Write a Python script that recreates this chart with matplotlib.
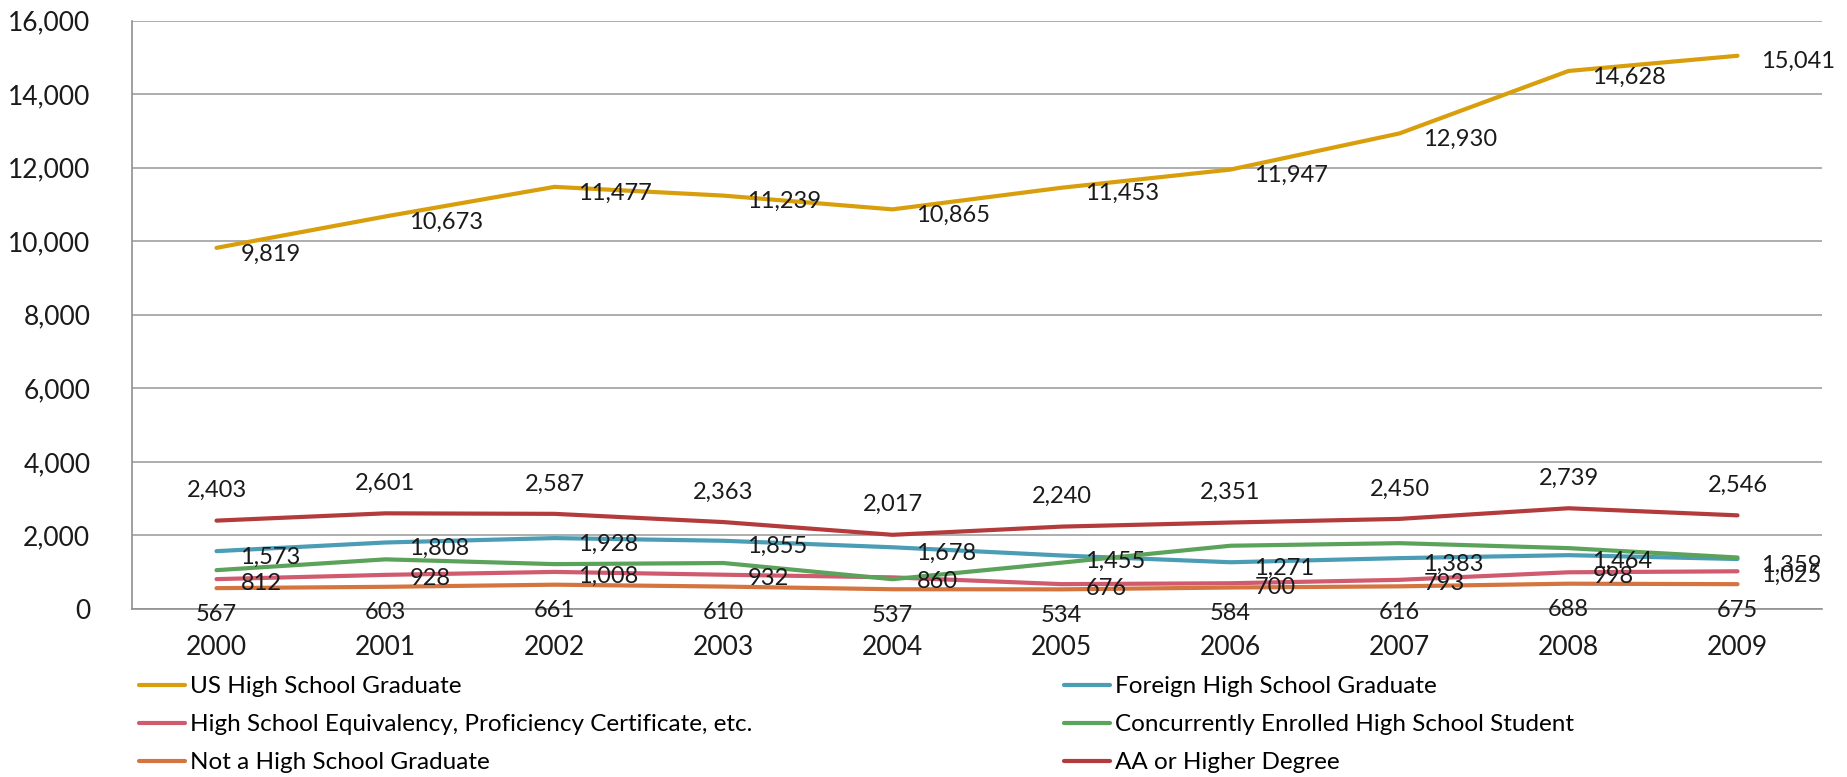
import matplotlib.pyplot as plt
from matplotlib.ticker import FuncFormatter
from matplotlib.transforms import offset_copy

plt.rcParams['font.family'] = ['Lato', 'DejaVu Sans']

years = ["2000", "2001", "2002", "2003", "2004", "2005", "2006", "2007", "2008", "2009"]

us_grad = [9819, 10673, 11477, 11239, 10865, 11453, 11947, 12930, 14628, 15041]
foreign_grad = [1573, 1808, 1928, 1855, 1678, 1455, 1271, 1383, 1464, 1359]
equivalency = [812, 928, 1008, 932, 860, 676, 700, 793, 998, 1025]
concurrent = [1056, 1350, 1220, 1250, 810, 1260, 1720, 1790, 1655, 1400]
not_grad = [567, 603, 661, 610, 537, 534, 584, 616, 688, 675]
aa_higher = [2403, 2601, 2587, 2363, 2017, 2240, 2351, 2450, 2739, 2546]

# name, values, colour, label placement (dx, dy in px, ha, va) or None
series = [
    ("US High School Graduate", us_grad, "#D99E0B", (24, -6, "left", "center")),
    ("Foreign High School Graduate", foreign_grad, "#4A9DB5", (24, -6, "left", "center")),
    ("High School Equivalency, Proficiency Certificate, etc.", equivalency, "#D05A6E", (24, -4, "left", "center")),
    ("Concurrently Enrolled High School Student", concurrent, "#5BA25A", None),
    ("Not a High School Graduate", not_grad, "#D4743F", (0, -26, "center", "center")),
    ("AA or Higher Degree", aa_higher, "#B33B3B", (0, 30, "center", "center")),
]

fig = plt.figure(figsize=(18.47, 7.77), dpi=100)
ax = fig.add_axes([132 / 1847, 1 - 609 / 777, 1690 / 1847, 588.5 / 777])

x = list(range(len(years)))
lines = {}
for name, vals, color, lab in series:
    ln, = ax.plot(x, vals, color=color, lw=3, solid_capstyle="round", label=name, zorder=3)
    lines[name] = ln
    if lab is not None:
        dx, dy, ha, va = lab
        tr = offset_copy(ax.transData, fig=fig, x=dx, y=dy, units="dots")
        for xi, v in zip(x, vals):
            ax.text(xi, v, f"{v:,}", transform=tr, ha=ha, va=va,
                    fontsize=17, color="#1a1a1a", zorder=4)

ax.set_xlim(-0.5, 9.5)
ax.set_ylim(0, 16000)
ax.set_yticks(range(0, 16001, 2000))
ax.yaxis.set_major_formatter(FuncFormatter(lambda v, p: f"{int(v):,}"))
ax.set_xticks(x)
ax.set_xticklabels(years)
ax.tick_params(axis="both", length=0, labelsize=19, colors="#1a1a1a")
ax.tick_params(axis="y", pad=30)
ax.tick_params(axis="x", pad=19)
ax.grid(axis="y", color="#A0A0A0", lw=1.2)
ax.set_axisbelow(True)
for s in ["top", "right"]:
    ax.spines[s].set_visible(False)
for s in ["left", "bottom"]:
    ax.spines[s].set_color("#909090")
    ax.spines[s].set_linewidth(1.2)

col1 = ["US High School Graduate",
        "High School Equivalency, Proficiency Certificate, etc.",
        "Not a High School Graduate"]
col2 = ["Foreign High School Graduate",
        "Concurrently Enrolled High School Student",
        "AA or Higher Degree"]
for names, xpos in [(col1, 139), (col2, 1064)]:
    fig.legend([lines[n] for n in names], names, loc="upper left",
               bbox_to_anchor=(xpos / 1847, 1 - 676 / 777), frameon=False,
               fontsize=17.5, handlelength=1.9, handletextpad=0.2,
               labelspacing=0.7, borderpad=0, borderaxespad=0)

fig.savefig("out.png", dpi=100)
